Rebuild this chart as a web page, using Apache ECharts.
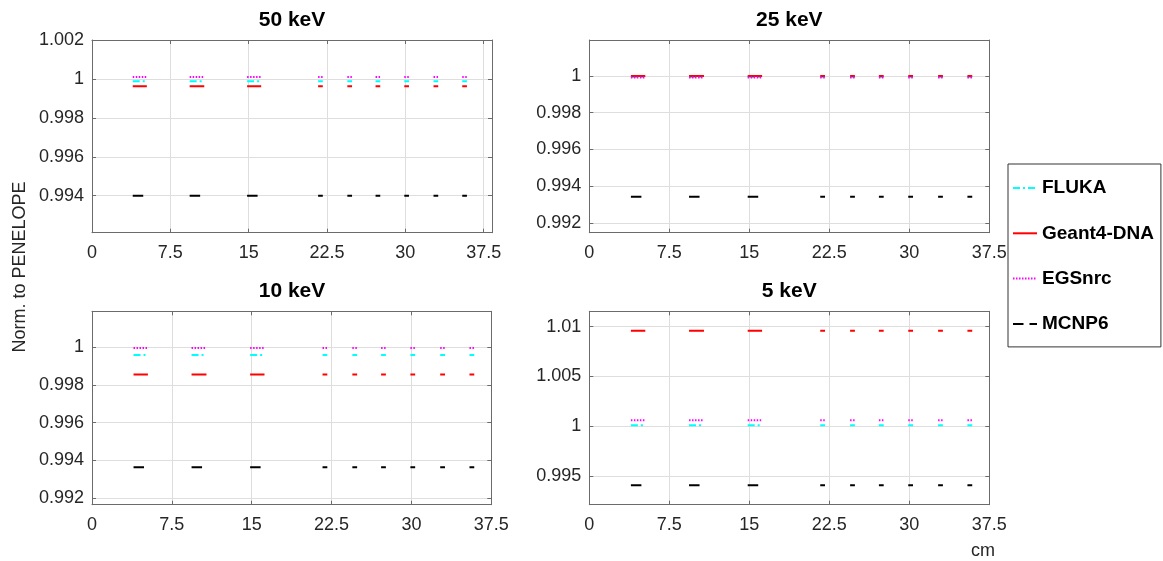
<!DOCTYPE html>
<html>
<head>
<meta charset="utf-8">
<script src="https://cdn.jsdelivr.net/npm/echarts@6/dist/echarts.min.js"></script>
<style>
html,body{margin:0;padding:0;background:#fff;}
#chart{width:1163px;height:561px;}
</style>
</head>
<body>
<div id="chart"></div>
<script>
// ---- data ----
const energies = ['50 keV', '25 keV', '10 keV', '5 keV'];
const seriesNames = ['FLUKA', 'Geant4-DNA', 'EGSnrc', 'MCNP6'];
const segStart = [3.9, 9.35, 14.85, 21.65, 24.45, 27.15, 29.9, 32.7, 35.45];
const segEnd   = [5.25, 10.75, 16.2, 22.1, 24.9, 27.6, 30.35, 33.15, 35.9];

const fluka50  = [0.99988, 0.99988, 0.99988, 0.99988, 0.99988, 0.99988, 0.99988, 0.99988, 0.99988];
const geant50  = [0.99962, 0.99962, 0.99962, 0.99962, 0.99962, 0.99962, 0.99962, 0.99962, 0.99962];
const egs50    = [1.0001, 1.0001, 1.0001, 1.0001, 1.0001, 1.0001, 1.0001, 1.0001, 1.0001];
const mcnp50   = [0.99400, 0.99400, 0.99400, 0.99400, 0.99400, 0.99400, 0.99400, 0.99400, 0.99400];

const fluka25  = [0.99995, 0.99995, 0.99995, 0.99995, 0.99995, 0.99995, 0.99995, 0.99995, 0.99995];
const geant25  = [1.0000, 1.0000, 1.0000, 1.0000, 1.0000, 1.0000, 1.0000, 1.0000, 1.0000];
const egs25    = [0.99992, 0.99992, 0.99992, 0.99992, 0.99992, 0.99992, 0.99992, 0.99992, 0.99992];
const mcnp25   = [0.99343, 0.99343, 0.99343, 0.99343, 0.99343, 0.99343, 0.99343, 0.99343, 0.99343];

const fluka10  = [0.99959, 0.99959, 0.99959, 0.99959, 0.99959, 0.99959, 0.99959, 0.99959, 0.99959];
const geant10  = [0.99855, 0.99855, 0.99855, 0.99855, 0.99855, 0.99855, 0.99855, 0.99855, 0.99855];
const egs10    = [0.99996, 0.99996, 0.99996, 0.99996, 0.99996, 0.99996, 0.99996, 0.99996, 0.99996];
const mcnp10   = [0.99363, 0.99363, 0.99363, 0.99363, 0.99363, 0.99363, 0.99363, 0.99363, 0.99363];

const fluka5   = [1.0001, 1.0001, 1.0001, 1.0001, 1.0001, 1.0001, 1.0001, 1.0001, 1.0001];
const geant5   = [1.0096, 1.0096, 1.0096, 1.0096, 1.0096, 1.0096, 1.0096, 1.0096, 1.0096];
const egs5     = [1.0006, 1.0006, 1.0006, 1.0006, 1.0006, 1.0006, 1.0006, 1.0006, 1.0006];
const mcnp5    = [0.99407, 0.99407, 0.99407, 0.99407, 0.99407, 0.99407, 0.99407, 0.99407, 0.99407];

const xTicks   = [0, 7.5, 15, 22.5, 30, 37.5];
const yTicks50 = [0.994, 0.996, 0.998, 1, 1.002];
const yTicks25 = [0.992, 0.994, 0.996, 0.998, 1];
const yTicks10 = [0.992, 0.994, 0.996, 0.998, 1];
const yTicks5  = [0.995, 1, 1.005, 1.01];

// axis ranges
const xMax = [38.3, 37.5, 37.5, 37.5];
const yMin = [0.9921, 0.99147, 0.99165, 0.99212];
const yMax = [1.002, 1.00196, 1.0019, 1.01155];

// ---- layout / style ----
const panelData = [
  [fluka50, geant50, egs50, mcnp50],
  [fluka25, geant25, egs25, mcnp25],
  [fluka10, geant10, egs10, mcnp10],
  [fluka5, geant5, egs5, mcnp5]
];
const yTicks = [yTicks50, yTicks25, yTicks10, yTicks5];
const grids = [
  {left: 92, top: 40, width: 400, height: 192.7},
  {left: 589.3, top: 40, width: 400, height: 192.7},
  {left: 92, top: 311.3, width: 399.3, height: 193.4},
  {left: 589.3, top: 311.3, width: 400, height: 193.4}
];
const titleX = [292, 789.3, 292, 789.3];
const titleY = [10, 10, 281, 281];
const lineStyles = [
  {color: '#00FFFF', width: 2, type: [7, 3, 2, 3]},
  {color: '#FF0000', width: 2, type: 'solid'},
  {color: '#FF00FF', width: 2, type: [1.5, 1.5]},
  {color: '#000000', width: 2, type: [10.5, 6]}
];
const FONT = '"Liberation Sans", Arial, Helvetica, sans-serif';
const AXC = '#6b6b6b';
const fmt = v => String(+(+v).toFixed(4));

function segData(vals) {
  const d = [];
  for (let i = 0; i < segStart.length; i++) {
    d.push([segStart[i], vals[i]]);
    d.push([segEnd[i], vals[i]]);
    d.push([segEnd[i], '-']);
  }
  return d;
}

const option = {
  backgroundColor: '#ffffff',
  animation: false,
  title: energies.map((e, i) => ({
    text: e, left: titleX[i], top: titleY[i], textAlign: 'center', padding: 0,
    textStyle: {fontFamily: FONT, fontSize: 21, fontWeight: 'bold', color: '#000'}
  })),
  grid: grids.map(g => Object.assign({containLabel: false}, g)),
  xAxis: [],
  yAxis: [],
  series: [],
  legend: {
    orient: 'vertical', left: 1008, top: 164,
    data: seriesNames,
    itemWidth: 24, itemHeight: 20, itemGap: 25.3,
    padding: [14, 7, 13, 4],
    borderColor: '#333', borderWidth: 1,
    itemStyle: {opacity: 0, borderWidth: 0},
    textStyle: {fontFamily: FONT, fontSize: 19, fontWeight: 'bold', color: '#000', lineHeight: 20},
    selectedMode: false
  },
  graphic: [
    {type: 'text', x: 20, y: 267, rotation: Math.PI / 2,
     style: {text: 'Norm. to PENELOPE', font: '18px ' + FONT, fill: '#262626', textAlign: 'center', textVerticalAlign: 'middle'}},
    {type: 'text', x: 983, y: 551,
     style: {text: 'cm', font: '18px ' + FONT, fill: '#262626', textAlign: 'center', textVerticalAlign: 'middle'}}
  ]
};

for (let p = 0; p < 4; p++) {
  const common = {
    axisLine: {show: true, onZero: false, lineStyle: {color: AXC, width: 1}}
  };
  const tick = {inside: true, length: 4, lineStyle: {color: AXC}};
  option.xAxis.push(Object.assign({
    type: 'value', gridIndex: p, position: 'bottom', min: 0, max: xMax[p],
    axisLabel: {customValues: xTicks, formatter: fmt, fontFamily: FONT, fontSize: 18, color: '#262626', margin: 11},
    axisTick: Object.assign({customValues: xTicks}, tick),
    splitLine: {show: true, lineStyle: {color: '#dedede', width: 1}}
  }, common));
  option.xAxis.push(Object.assign({
    type: 'value', gridIndex: p, position: 'top', min: 0, max: xMax[p],
    axisLabel: {show: false}, splitLine: {show: false},
    axisTick: Object.assign({customValues: xTicks}, tick)
  }, common));
  option.yAxis.push(Object.assign({
    type: 'value', gridIndex: p, position: 'left', min: yMin[p], max: yMax[p],
    axisLabel: {customValues: yTicks[p], formatter: fmt, fontFamily: FONT, fontSize: 18, color: '#262626', margin: 8},
    axisTick: Object.assign({customValues: yTicks[p]}, tick),
    splitLine: {show: true, lineStyle: {color: '#dedede', width: 1}}
  }, common));
  option.yAxis.push(Object.assign({
    type: 'value', gridIndex: p, position: 'right', min: yMin[p], max: yMax[p],
    axisLabel: {show: false}, splitLine: {show: false},
    axisTick: Object.assign({customValues: yTicks[p]}, tick)
  }, common));

  for (let s = 0; s < 4; s++) {
    option.series.push({
      name: seriesNames[s], type: 'line',
      xAxisIndex: p * 2, yAxisIndex: p * 2,
      data: segData(panelData[p][s]),
      symbol: 'none', showSymbol: false, connectNulls: false,
      lineStyle: lineStyles[s], itemStyle: {color: lineStyles[s].color},
      z: 2 + s, silent: true
    });
  }
}

const chart = echarts.init(document.getElementById('chart'), null, {renderer: 'canvas'});
chart.setOption(option);
</script>
</body>
</html>
